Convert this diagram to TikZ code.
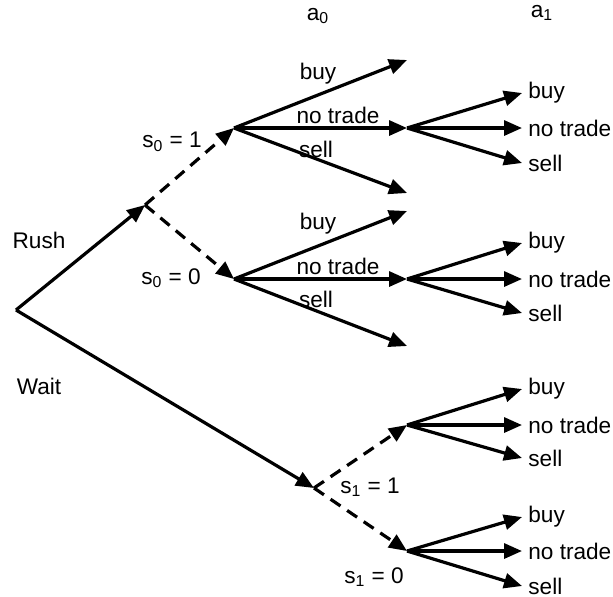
\documentclass[tikz,border=0pt]{standalone}
\usepackage{fontspec}
\setmainfont{Liberation Sans}
\usepackage{tikz}
\usetikzlibrary{arrows.meta}
\tikzset{
    move/.style={line width=1.6pt, -{Triangle[length=9pt, width=7.5pt]}},
    chance/.style={move, dash pattern=on 6pt off 4pt},
    lbl/.style={font=\fontsize{11.3}{13}\selectfont, inner sep=0pt},
    leaf/.style={font=\fontsize{11.3}{13}\selectfont, anchor=west, inner sep=3pt}
}

\begin{document}
\begin{tikzpicture}[x=0.5pt, y=-0.5pt]
    \useasboundingbox (0,0) rectangle (613,596);
    % decision points
    \coordinate (root) at (16,310);
    \coordinate (rush) at (145,205);
    \coordinate (wait) at (314,488);
    \coordinate (hi0) at (234,128);
    \coordinate (lo0) at (234,279);
    \coordinate (hi1) at (407,425);
    \coordinate (lo1) at (407,551);
    \coordinate (m0) at (407,128);
    \coordinate (m1) at (407,279);
    \coordinate (hb) at (407,60);
    \coordinate (hs) at (407,193);
    \coordinate (lb) at (407,211);
    \coordinate (ls) at (407,346);

    % headings and labels
    \node[lbl] (a0) at (318,16) {a\textsubscript{0}};
    \node[lbl] (a1) at (542,13) {a\textsubscript{1}};
    \node[lbl] (rushlbl) at (39,240) {Rush};
    \node[lbl] (waitlbl) at (39,386) {Wait};
    \node[lbl] (s0hi) at (172,142) {s\textsubscript{0} = 1};
    \node[lbl] (s0lo) at (171,278) {s\textsubscript{0} = 0};
    \node[lbl] (s1hi) at (370,487) {s\textsubscript{1} = 1};
    \node[lbl] (s1lo) at (374,577) {s\textsubscript{1} = 0};

    \node[lbl] (hbl) at (318,74) {buy};
    \node[lbl] (hnl) at (338,115) {no trade};
    \node[lbl] (hsl) at (316,149) {sell};
    \node[lbl] (lbl0) at (318,224) {buy};
    \node[lbl] (lnl) at (338,266) {no trade};
    \node[lbl] (lsl) at (316,299) {sell};

    % second-period actions
    \node[leaf] (m0b) at (522,93) {buy};
    \node[leaf] (m0n) at (522,128) {no trade};
    \node[leaf] (m0s) at (522,163) {sell};
    \node[leaf] (m1b) at (522,243) {buy};
    \node[leaf] (m1n) at (522,279) {no trade};
    \node[leaf] (m1s) at (522,313) {sell};
    \node[leaf] (h1b) at (522,389) {buy};
    \node[leaf] (h1n) at (522,425) {no trade};
    \node[leaf] (h1s) at (522,458) {sell};
    \node[leaf] (l1b) at (522,517) {buy};
    \node[leaf] (l1n) at (522,551) {no trade};
    \node[leaf] (l1s) at (522,586) {sell};

    % first choice
    \draw[move] (root) -- (rush);
    \draw[move] (root) -- (wait);
    \draw[chance] (rush) -- (hi0);
    \draw[chance] (rush) -- (lo0);
    \draw[chance] (wait) -- (hi1);
    \draw[chance] (wait) -- (lo1);

    % a0
    \draw[move] (hi0) -- (hb);
    \draw[move] (hi0) -- (m0);
    \draw[move] (hi0) -- (hs);
    \draw[move] (lo0) -- (lb);
    \draw[move] (lo0) -- (m1);
    \draw[move] (lo0) -- (ls);

    % a1
    \draw[move] (m0) -- (m0b.west);
    \draw[move] (m0) -- (m0n.west);
    \draw[move] (m0) -- (m0s.west);
    \draw[move] (m1) -- (m1b.west);
    \draw[move] (m1) -- (m1n.west);
    \draw[move] (m1) -- (m1s.west);
    \draw[move] (hi1) -- (h1b.west);
    \draw[move] (hi1) -- (h1n.west);
    \draw[move] (hi1) -- (h1s.west);
    \draw[move] (lo1) -- (l1b.west);
    \draw[move] (lo1) -- (l1n.west);
    \draw[move] (lo1) -- (l1s.west);
\end{tikzpicture}
\end{document}
